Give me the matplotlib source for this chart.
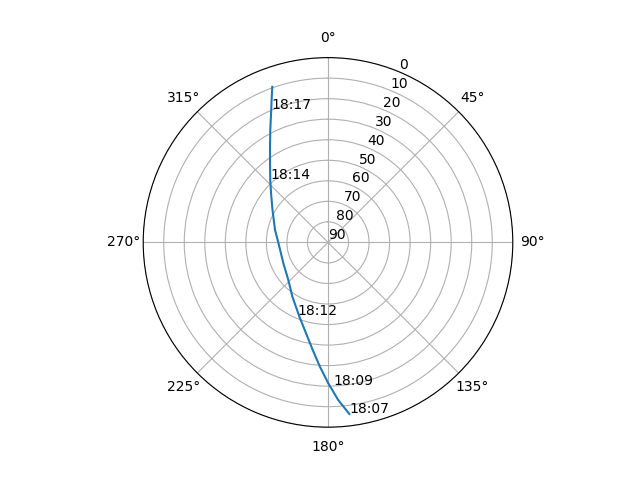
import numpy as np
import matplotlib
matplotlib.use("Agg")
import matplotlib.pyplot as plt

# Satellite pass: azimuth (deg) and elevation (deg)
azimuth = [172.9, 176.3, 179.9, 183.7, 188.1, 193.6, 201.0, 213.3, 226.6,
           244.9, 270.8, 283.2, 300.3, 310.9, 317.2, 323.8, 328.8, 332.8,
           336.2, 338.4, 340.3]
elevation = [5.8, 13.1, 21.4, 29.3, 37.1, 44.5, 51.2, 58.4, 63.4,
             66.0, 65.7, 63.5, 58.7, 53.3, 48.6, 42.2, 35.5, 28.5,
             21.3, 15.4, 9.5]

# time labels along the pass
label_az = [172.9, 178.0, 202.8, 317.5, 336.9]
label_el = [6.1, 20.5, 51.7, 48.2, 19.3]
label_txt = ["18:07", "18:09", "18:12", "18:14", "18:17"]

r_ticks = list(range(0, 91, 10))

fig = plt.figure(figsize=(6.4, 4.8), dpi=100)
ax = fig.add_subplot(111, projection="polar")
ax.set_theta_zero_location("N")
ax.set_theta_direction(-1)

ax.plot(np.radians(azimuth), elevation, color="#1f77b4")
for a, e, t in zip(label_az, label_el, label_txt):
    ax.text(np.radians(a), e, t)

ax.set_rlim(90, 0)
ax.set_yticks(r_ticks)
ax.grid(True)

fig.savefig("out.png", dpi=100)
